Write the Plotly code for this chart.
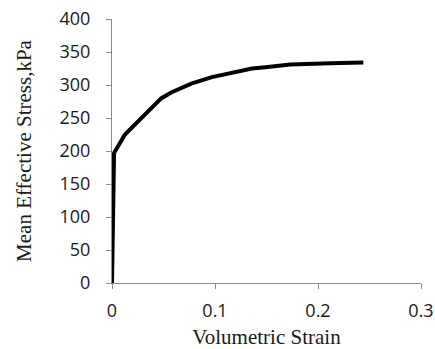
import plotly.graph_objects as go

strain = [0, 0.001, 0.002, 0.0126, 0.0256, 0.048, 0.058, 0.077, 0.097,
          0.116, 0.136, 0.149, 0.173, 0.212, 0.244]
stress = [0, 100, 197, 225, 245, 280, 289, 302, 312,
          319, 325, 327, 331, 333, 334]

x_ticks = [0, 0.1, 0.2, 0.3]
x_tick_text = ["0", "0.1", "0.2", "0.3"]
y_ticks = [0, 50, 100, 150, 200, 250, 300, 350, 400]

fig = go.Figure()
fig.add_trace(go.Scatter(x=strain, y=stress, mode="lines",
                         line=dict(color="black", width=4), showlegend=False))

tickfont = dict(family="Open Sans, Liberation Sans, sans-serif", size=18, color="#1a1a1a")
titlefont = dict(family="Liberation Serif, serif", size=21, color="#1a1a1a")

fig.update_layout(
    width=435, height=349,
    margin=dict(l=112, r=14, t=19, b=66),
    paper_bgcolor="white", plot_bgcolor="white",
    xaxis=dict(range=[0, 0.3], tickvals=x_ticks, ticktext=x_tick_text,
               showline=True, linecolor="#8c8c8c", linewidth=1,
               ticks="outside", ticklen=5, tickcolor="#8c8c8c",
               showgrid=False, zeroline=False, tickfont=tickfont,
               automargin=False, ticklabelstandoff=6,
               title=dict(text="Volumetric Strain", font=titlefont, standoff=9)),
    yaxis=dict(range=[0, 400], tickvals=y_ticks,
               showline=True, linecolor="#8c8c8c", linewidth=1,
               ticks="outside", ticklen=5, tickcolor="#8c8c8c",
               showgrid=False, zeroline=False, tickfont=tickfont,
               automargin=False, ticklabelstandoff=12,
               title=dict(text="Mean Effective Stress,kPa", font=titlefont, standoff=22)),
)

fig.write_html("out.html")
